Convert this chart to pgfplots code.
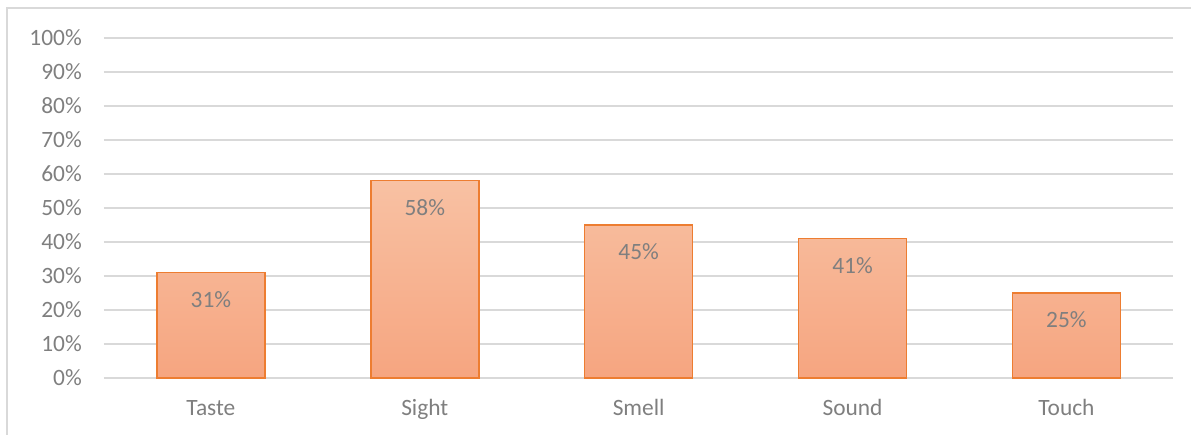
\documentclass[border=0pt]{standalone}
\usepackage{fontspec}
\setmainfont{Carlito}
\usepackage{pgfplots}
\pgfplotsset{compat=1.18}
\definecolor{txt}{RGB}{127,127,127}
\definecolor{gridc}{RGB}{217,217,217}
\definecolor{barline}{RGB}{237,125,49}
\definecolor{bartop}{RGB}{248,193,163}
\definecolor{barbot}{RGB}{246,165,128}
\begin{document}
\begin{tikzpicture}
% page extent
\path (-104bp,-57bp) rectangle (1088bp,378bp);
% chart frame (left and top edges)
\draw[gridc, line width=1.2bp] (-97bp,-57bp) -- (-97bp,370bp) -- (1088bp,370bp);
\begin{axis}[
  at={(0,0)}, anchor=south west,
  scale only axis, width=1070bp, height=340bp,
  xmin=-0.5, xmax=4.5, ymin=0, ymax=100,
  ybar, bar width=108bp,
  xtick={0,...,4}, xticklabels={Taste,Sight,Smell,Sound,Touch},
  ytick={0,10,...,100},
  yticklabel={\pgfmathprintnumber{\tick}\%},
  axis line style={draw=none}, major tick length=0pt,
  ymajorgrids, grid style={gridc, line width=1.5bp},
  /pgf/number format/assume math mode=true,
  tick label style={font=\fontsize{23.5}{27}\selectfont, text=txt, inner sep=0pt},
  xticklabel style={anchor=base, yshift=-38bp},
  yticklabel style={anchor=east, xshift=-22bp},
  nodes near coords={\pgfmathprintnumber{\pgfplotspointmeta}\%},
  nodes near coords style={font=\fontsize{23.5}{27}\selectfont, text=txt, anchor=center, yshift=-27bp},
  clip=false,
]
\addplot[draw=barline, line width=1.5bp, top color=bartop, bottom color=barbot]
  coordinates {(0,31) (1,58) (2,45) (3,41) (4,25)};
\end{axis}
\end{tikzpicture}
\end{document}
